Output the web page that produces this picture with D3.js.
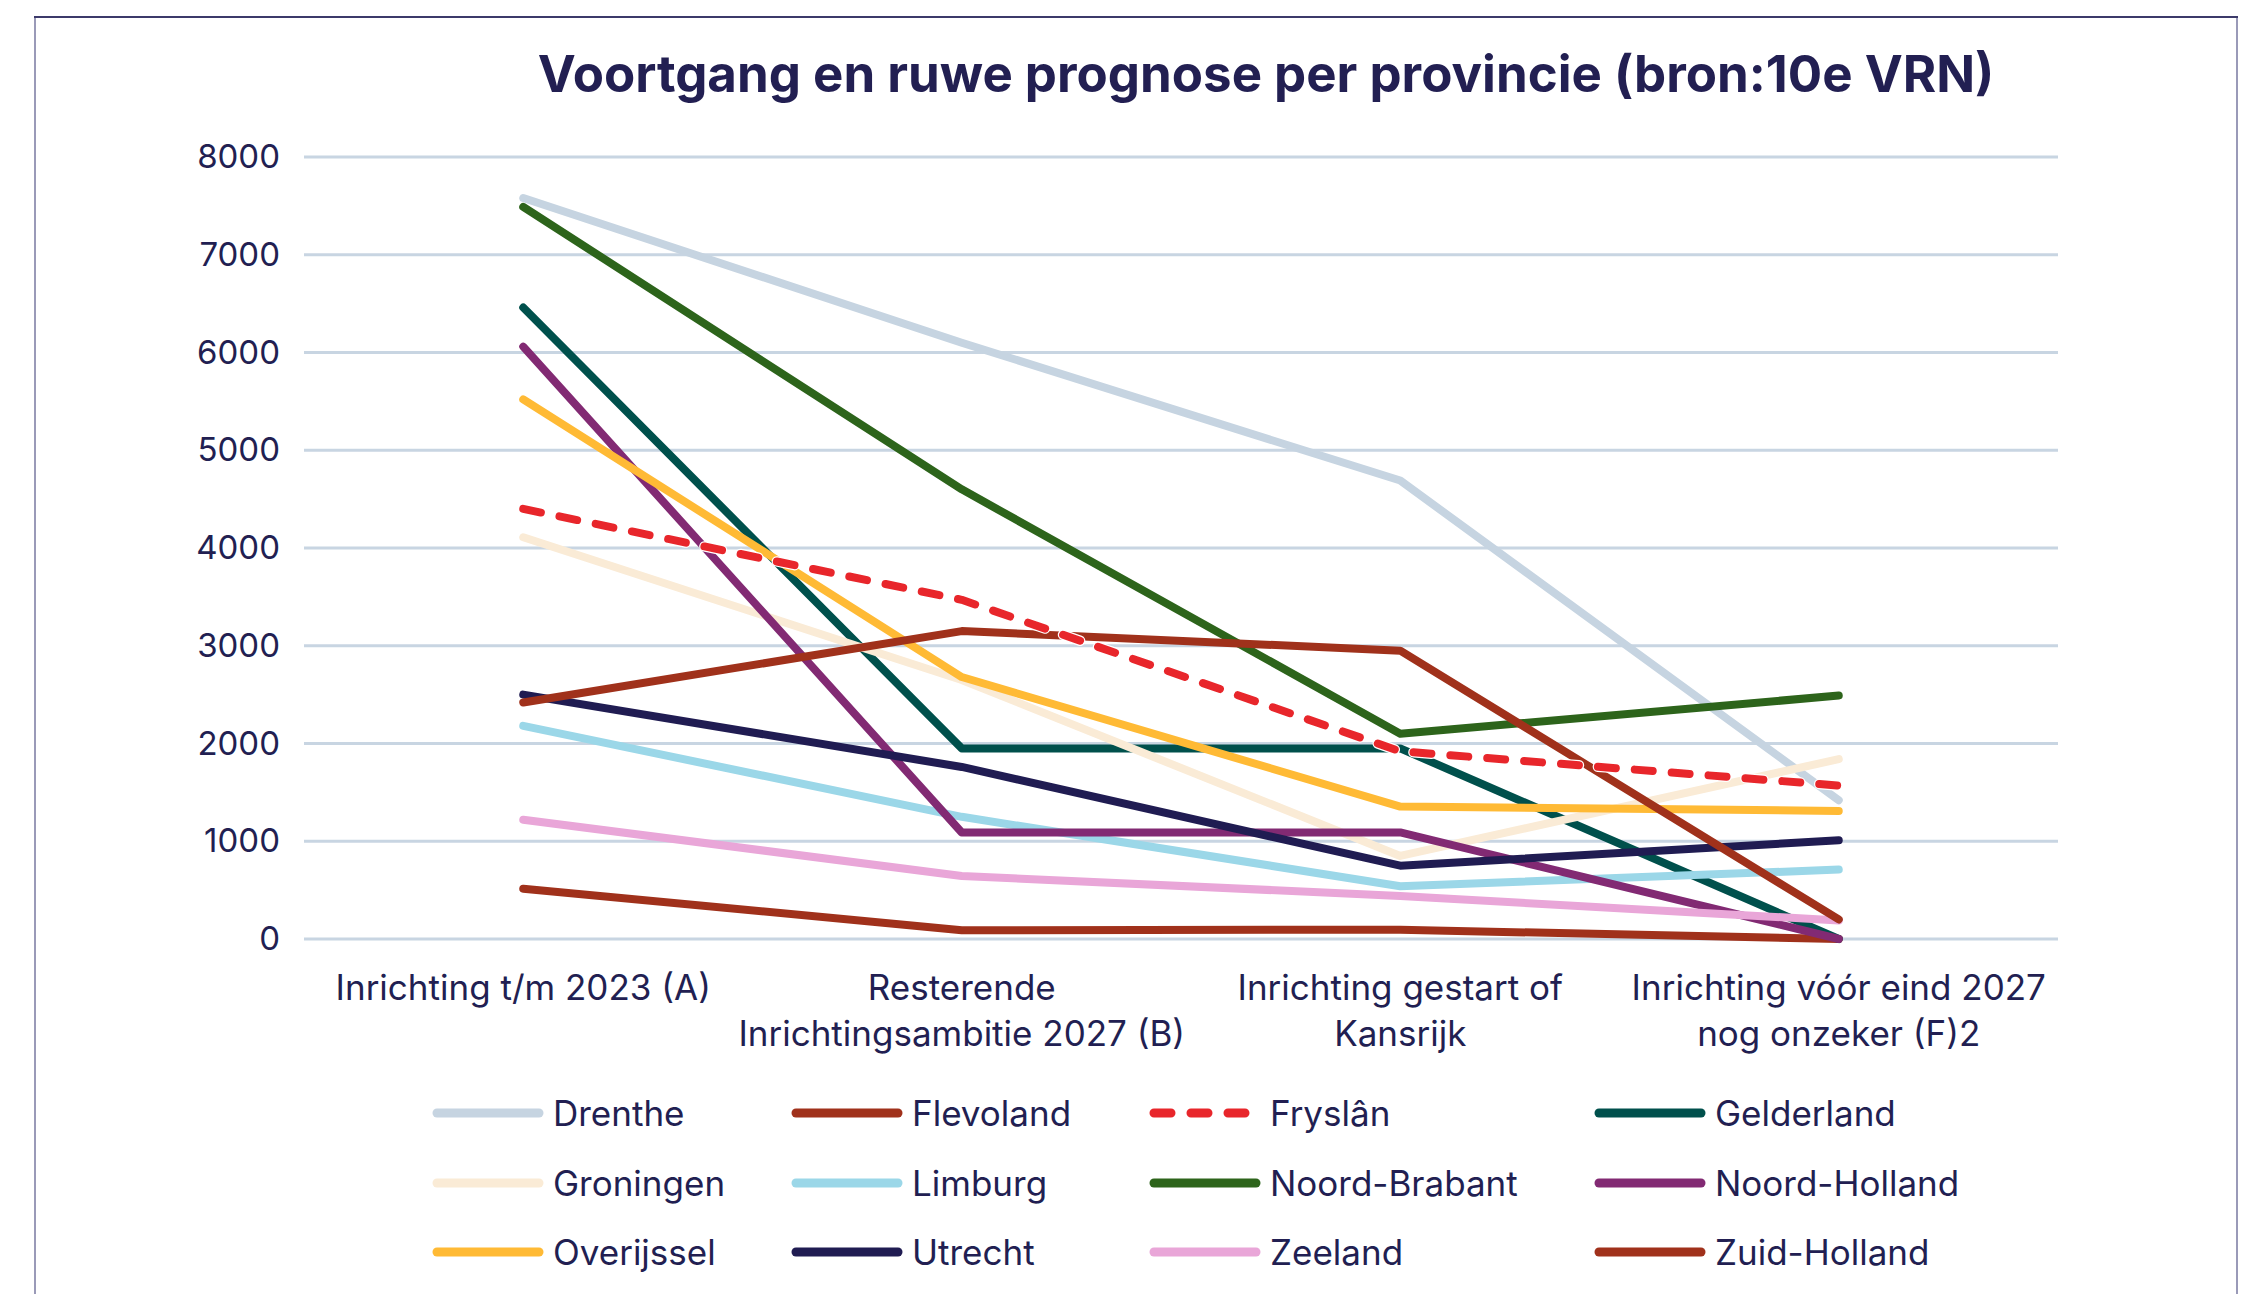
<!DOCTYPE html>
<html lang="nl">

<head>
    <meta charset="UTF-8">
    <title>Voortgang per provincie</title>
    <style>
        body {
            margin: 0;
            background: #ffffff;
        }

        svg text {
            font-family: Inter, "Open Sans", sans-serif;
            fill: #221f52;
        }
    </style>
</head>

<body>

    <script src="https://d3js.org/d3.v7.min.js"></script>

    <div id="chart"></div>
    <script>
        // categories (x axis), split over two lines like the original
        var categories = ["Inrichting t/m 2023 (A)", "Resterende Inrichtingsambitie 2027 (B)", "Inrichting gestart of Kansrijk", "Inrichting vóór eind 2027 nog onzeker (F)2"];
        var categoryLines = [
            ["Inrichting t/m 2023 (A)"],
            ["Resterende", "Inrichtingsambitie 2027 (B)"],
            ["Inrichting gestart of", "Kansrijk"],
            ["Inrichting vóór eind 2027", "nog onzeker (F)2"]
        ];
        var yTicks = [0, 1000, 2000, 3000, 4000, 5000, 6000, 7000, 8000];

        // series values
        var drenthe = [7580, 6100, 4690, 1420];
        var flevoland = [515, 90, 95, 0];
        var fryslan = [4400, 3470, 1920, 1570];
        var gelderland = [6460, 1950, 1950, 0];
        var groningen = [4110, 2650, 850, 1840];
        var limburg = [2180, 1250, 540, 710];
        var noordBrabant = [7490, 4600, 2100, 2490];
        var noordHolland = [6060, 1090, 1090, 0];
        var overijssel = [5520, 2680, 1355, 1310];
        var utrecht = [2500, 1760, 750, 1010];
        var zeeland = [1220, 645, 440, 190];
        var zuidHolland = [2420, 3150, 2950, 200];

        var series = [
            { name: "Drenthe", values: drenthe, color: "#c6d4e1" },
            { name: "Flevoland", values: flevoland, color: "#a0311b" },
            { name: "Fryslân", values: fryslan, color: "#e8262b", dashed: true },
            { name: "Gelderland", values: gelderland, color: "#00504c" },
            { name: "Groningen", values: groningen, color: "#faebd6" },
            { name: "Limburg", values: limburg, color: "#9bd7e8" },
            { name: "Noord-Brabant", values: noordBrabant, color: "#2d641b" },
            { name: "Noord-Holland", values: noordHolland, color: "#822a73" },
            { name: "Overijssel", values: overijssel, color: "#ffba35" },
            { name: "Utrecht", values: utrecht, color: "#201c52" },
            { name: "Zeeland", values: zeeland, color: "#e9a6d8" },
            { name: "Zuid-Holland", values: zuidHolland, color: "#a0311b" }
        ];

        var W = 2249, H = 1294;
        var margin = { top: 157, right: 191, bottom: 355, left: 304 },
            width = W - margin.left - margin.right,
            height = H - margin.top - margin.bottom;

        var svg = d3.select("#chart")
            .append("svg")
            .attr("width", W)
            .attr("height", H);

        // frame
        svg.append("line")
            .attr("x1", 35).attr("x2", 35).attr("y1", 17).attr("y2", H)
            .attr("stroke", "#9a9ab8").attr("stroke-width", 2);
        svg.append("line")
            .attr("x1", 2237).attr("x2", 2237).attr("y1", 17).attr("y2", H)
            .attr("stroke", "#9a9ab8").attr("stroke-width", 2);
        svg.append("line")
            .attr("x1", 34).attr("x2", 2238).attr("y1", 17).attr("y2", 17)
            .attr("stroke", "#3c3a6a").attr("stroke-width", 2);

        // title
        svg.append("text")
            .attr("x", 1266)
            .attr("y", 92)
            .attr("text-anchor", "middle")
            .style("font-size", "51px")
            .style("font-weight", 700)
            .text("Voortgang en ruwe prognose per provincie (bron:10e VRN)");

        var g = svg.append("g")
            .attr("transform", "translate(" + margin.left + "," + margin.top + ")");

        var x = d3.scaleBand()
            .domain(categories)
            .range([0, width]);

        var y = d3.scaleLinear()
            .domain([0, 8000])
            .range([height, 0]);

        // grid lines
        g.append("g")
            .selectAll("line")
            .data(yTicks)
            .enter()
            .append("line")
            .attr("x1", 0)
            .attr("x2", width)
            .attr("y1", function (d) { return y(d) })
            .attr("y2", function (d) { return y(d) })
            .attr("stroke", "#c8d5e2")
            .attr("stroke-width", 3);

        // y axis labels
        var yAxis = g.append("g")
            .attr("transform", "translate(-24,0)")
            .call(d3.axisLeft(y).tickValues(yTicks).tickSize(0).tickPadding(0).tickFormat(d3.format("d")));
        yAxis.select(".domain").remove();
        yAxis.selectAll("text")
            .style("font-size", "33px")
            .attr("fill", "#221f52");

        // x axis labels, two lines
        var xAxis = g.append("g")
            .attr("transform", "translate(0," + height + ")")
            .call(d3.axisBottom(x).tickSize(0).tickFormat(""));
        xAxis.select(".domain").remove();
        xAxis.selectAll(".tick")
            .append("text")
            .attr("text-anchor", "middle")
            .style("font-size", "35px")
            .selectAll("tspan")
            .data(function (d, i) { return categoryLines[i] })
            .enter()
            .append("tspan")
            .attr("x", 0)
            .attr("y", function (d, i) { return 61 + i * 46 })
            .text(function (d) { return d });

        var line = d3.line()
            .x(function (d, i) { return x(categories[i]) + x.bandwidth() / 2 })
            .y(function (d) { return y(d) });

        // Fryslân is drawn last, on top, with a thin white halo
        var order = series.filter(function (s) { return !s.dashed }).concat(series.filter(function (s) { return s.dashed }));

        order.forEach(function (s) {
            if (s.dashed) {
                g.append("path")
                    .datum(s.values)
                    .attr("fill", "none")
                    .attr("stroke", "#ffffff")
                    .attr("stroke-width", 10.5)
                    .attr("stroke-linecap", "round")
                    .attr("stroke-dasharray", "18,19")
                    .attr("d", line);
            }
            g.append("path")
                .datum(s.values)
                .attr("fill", "none")
                .attr("stroke", s.color)
                .attr("stroke-width", 8)
                .attr("stroke-linecap", "round")
                .attr("stroke-linejoin", "round")
                .attr("stroke-dasharray", s.dashed ? "18,19" : null)
                .attr("d", line);
        });

        // legend, 4 columns x 3 rows
        var colX = [433, 792, 1150, 1595];
        var rowY = [1113, 1183, 1252];
        var legend = svg.append("g")
            .selectAll("g")
            .data(series)
            .enter()
            .append("g")
            .attr("transform", function (d, i) { return "translate(" + colX[i % 4] + "," + rowY[Math.floor(i / 4)] + ")" });

        legend.append("line")
            .attr("x1", 4)
            .attr("x2", 106)
            .attr("stroke", function (d) { return d.color })
            .attr("stroke-width", 9)
            .attr("stroke-linecap", "round")
            .attr("stroke-dasharray", function (d) { return d.dashed ? "17,20" : null });

        legend.append("text")
            .attr("x", 120)
            .attr("dy", "0.36em")
            .style("font-size", "35px")
            .text(function (d) { return d.name });
    </script>
</body>

</html>
